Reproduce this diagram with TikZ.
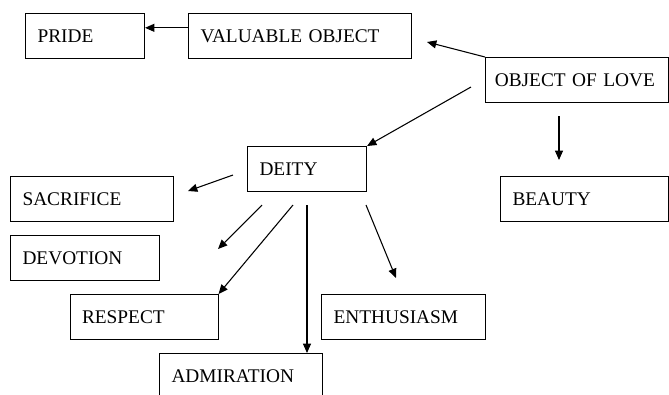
\documentclass[tikz,border=0pt]{standalone}
\usepackage{fontspec}
\setmainfont{Liberation Serif}
\usetikzlibrary{arrows.meta}
\begin{document}
\begin{tikzpicture}[
x=0.75pt, y=-0.75pt,
concept/.style={rectangle, draw=black, line width=0.8pt, anchor=north west, align=left, inner xsep=9pt, minimum height=33.4pt, text width=#1, font=\fontsize{14.5}{17}\selectfont},
link/.style={-{Triangle[length=7pt,width=6pt]}, line width=0.8pt},
]
\useasboundingbox (0,0) rectangle (669,394);
\node[concept=71.25pt] (pride) at (25,13) {PRIDE};
\node[concept=149.25pt] (valuable) at (188,13) {VALUABLE OBJECT};
\node[concept=123.25pt, inner xsep=7pt] (love) at (485,57) {OBJECT OF LOVE};
\node[concept=71.25pt] (deity) at (247,146) {DEITY};
\node[concept=104.25pt] (sacrifice) at (10,176) {SACRIFICE};
\node[concept=108pt] (beauty) at (500,176) {BEAUTY};
\node[concept=93.75pt] (devotion) at (10,235) {DEVOTION};
\node[concept=93pt] (respect) at (69.5,294) {RESPECT};
\node[concept=105pt] (enthusiasm) at (321,294) {ENTHUSIASM};
\node[concept=104.25pt] (admiration) at (159,353) {ADMIRATION};

\coordinate (vo tip) at (427,42);
\coordinate (deity tail) at (471,87);
\coordinate (beauty tail) at (559,116);
\coordinate (beauty tip) at (559,160);
\coordinate (sac tail) at (233,175);
\coordinate (sac tip) at (188,191);
\coordinate (dev tail) at (262,205);
\coordinate (dev tip) at (218,249);
\coordinate (res tail) at (293,205);
\coordinate (adm tail) at (307,205);
\coordinate (ent tail) at (366,205);
\coordinate (ent tip) at (396,278);

\draw[link] ([yshift=6pt]valuable.west) -- ([yshift=6pt]pride.east);
\draw[link] (love.north west) -- (vo tip);
\draw[link] (deity tail) -- (deity.north east);
\draw[link] (beauty tail) -- (beauty tip);
\draw[link] (sac tail) -- (sac tip);
\draw[link] (dev tail) -- (dev tip);
\draw[link] (res tail) -- (respect.north east);
\draw[link] (adm tail) -- (adm tail |- admiration.north);
\draw[link] (ent tail) -- (ent tip);
\end{tikzpicture}
\end{document}
